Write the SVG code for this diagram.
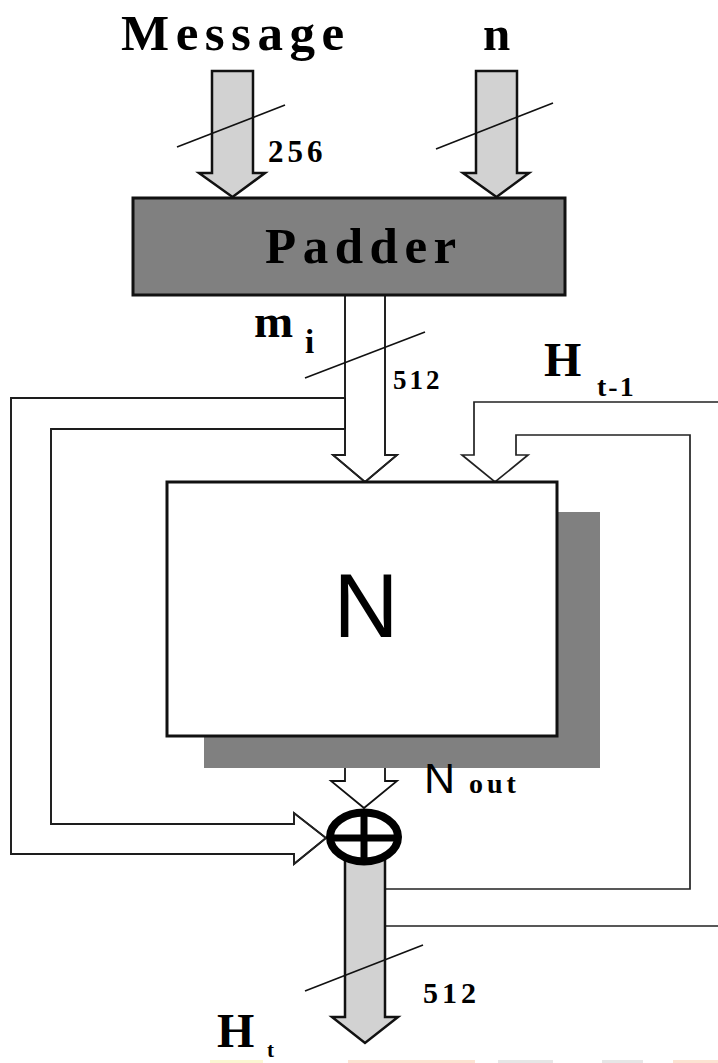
<svg xmlns="http://www.w3.org/2000/svg" width="718" height="1063" viewBox="0 0 718 1063">
<style>
.lbl{font-family:"Liberation Serif","Times New Roman",serif;font-weight:bold;fill:#000}
.sans{font-family:"Liberation Sans",Arial,sans-serif;fill:#000}
.gray{fill:#d2d2d2;stroke:#111;stroke-width:2.5;stroke-linejoin:miter}
.white{fill:#fff;stroke:#111;stroke-width:1.8}
.line{fill:none;stroke:#222;stroke-width:1.7}
.slash{fill:none;stroke:#111;stroke-width:1.6}
</style>
<rect width="718" height="1063" fill="#fff"/>

<g id="connectors">
  <!-- Message arrow -->
  <polygon class="gray" points="212,71 253,71 253,173 265,173 232.5,197 199,173 212,173"/>
  <!-- n arrow -->
  <polygon class="gray" points="476,71 517,71 517,173 529,173 496.5,197 463,173 476,173"/>
  <!-- m_i arrow with left branch -->
  <path class="white" stroke="none" d="M345,295 H385 V455 H397 L365,482 L333,455 H345 Z"/>
  <path class="white" stroke="none" d="M345,398 H11 V854 H294 V864 L326,838 L294,813 V824 H51 V429 H345 Z"/>
  <path class="line" d="M385,295 V455 H397 L365,482 L333,455 H345 V429 M345,398 V295"/>
  <path class="line" d="M345,398 H11 V854 H294 V864 L326,838 L294,813 V824 H51 V429 H345"/>
  <!-- H_{t-1} feedback arrow -->
  <path class="line" d="M718,402 H474 V455 H462 L495,482 L528,455 H516 V435 H690 V889 H385 M385,926 H718"/>
  <!-- N_out arrow -->
  <polygon class="white" points="345,737 385,737 385,781 397,781 364,808 331,781 345,781"/>
  <!-- H_t output arrow -->
  <polygon class="gray" points="345,850 385,850 385,1017 398,1017 365,1043 332,1017 345,1017"/>
  <!-- bit-width slashes -->
  <line class="slash" x1="177" y1="147" x2="285" y2="105"/>
  <line class="slash" x1="436" y1="149" x2="553" y2="103"/>
  <line class="slash" x1="305" y1="378" x2="425" y2="332"/>
  <line class="slash" x1="305" y1="991" x2="423" y2="945"/>
</g>

<g id="padder">
  <rect x="133" y="198" width="432" height="97" fill="#808080" stroke="#111" stroke-width="3"/>
  <text class="lbl" x="265" y="263" font-size="51" letter-spacing="6.5">Padder</text>
</g>

<g id="n-block">
  <rect x="204" y="512" width="396" height="256" fill="#808080"/>
  <rect x="167" y="482" width="390" height="254" fill="#fff" stroke="#111" stroke-width="3"/>
  <text class="sans" x="366" y="637" font-size="90" text-anchor="middle">N</text>
</g>

<g id="xor">
  <ellipse cx="364" cy="837" rx="34" ry="24.5" fill="#fff" stroke="#000" stroke-width="8"/>
  <line x1="330" y1="838" x2="398" y2="838" stroke="#000" stroke-width="7"/>
  <line x1="364" y1="812" x2="364" y2="862" stroke="#000" stroke-width="7"/>
</g>

<g id="labels">
  <text class="lbl" x="121" y="50" font-size="51" letter-spacing="6.5">Message</text>
  <text class="lbl" x="483" y="50" font-size="49">n</text>
  <text class="lbl" x="268" y="162" font-size="31" letter-spacing="4">256</text>
  <text class="lbl" x="254" y="337" font-size="47">m</text>
  <text class="lbl" x="305" y="353" font-size="33">i</text>
  <text class="lbl" x="393" y="389" font-size="27" letter-spacing="3">512</text>
  <text class="lbl" x="544" y="376" font-size="48">H</text>
  <text class="lbl" x="597" y="396" font-size="28" letter-spacing="2">t-1</text>
  <text class="sans" x="424" y="793" font-size="43">N</text>
  <text class="lbl" x="469" y="793" font-size="28" letter-spacing="4">out</text>
  <text class="lbl" x="423" y="1003" font-size="30" letter-spacing="4">512</text>
  <text class="lbl" x="217" y="1047" font-size="48">H</text>
  <text class="lbl" x="267" y="1057" font-size="21">t</text>
</g>

<g id="bottom-edge">
  <rect x="210" y="1060" width="53" height="3" fill="#fbf6d2"/>
  <rect x="348" y="1060" width="127" height="3" fill="#fce3d2"/>
  <rect x="498" y="1060" width="55" height="3" fill="#e6e6e6"/>
  <rect x="602" y="1060" width="41" height="3" fill="#e6e6e6"/>
  <rect x="673" y="1060" width="45" height="3" fill="#fce3d2"/>
</g>
</svg>
